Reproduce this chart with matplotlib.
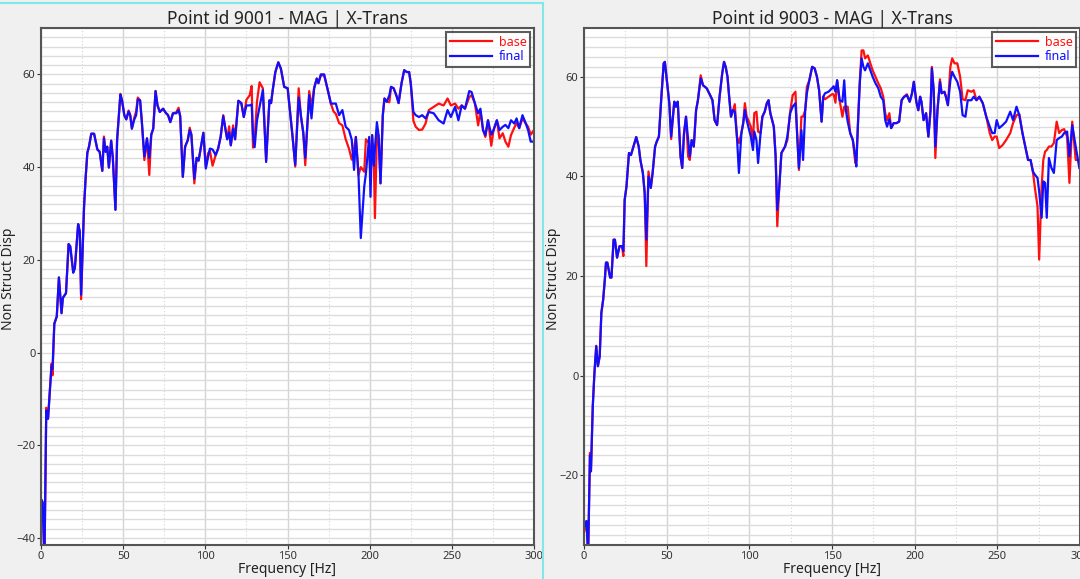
import matplotlib.pyplot as plt
from matplotlib.ticker import MultipleLocator
from matplotlib.patches import Rectangle

plt.rcParams['font.family'] = ['Noto Sans', 'DejaVu Sans']

# point 9001
freq1 = [0, 1, 2.1, 3.2, 4.3, 5.3, 6.4, 7, 8.1, 9.6, 10.9, 12.5, 13.3, 15.2, 16.8, 17.8, 19.6, 20.6,
         22.6, 23.6, 24.4, 26.2, 27.2, 28.2, 29.2, 30.6, 32.3, 34.3, 35.7, 37.3, 38.3, 39.3, 40.3,
         41.3, 42.7, 43.7, 45.3, 46.3, 47.3, 48.3, 49.3, 50.7, 51.9, 53.3, 54.3, 55.3, 56.7, 57.9,
         58.9, 60.3, 61.3, 62.9, 64.5, 65.9, 67.1, 68.3, 69.7, 70.9, 72.3, 74.3, 75.9, 77.3, 78.7,
         80.3, 82.3, 83.7, 84.7, 86.3, 87.7, 89.3, 90.5, 91.5, 93.3, 94.7, 95.9, 98.8, 100.3,
         101.7, 102.8, 104.4, 106.3, 107.8, 109.3, 110.9, 112.3, 113.3, 114.5, 115.5, 116.9, 118.1,
         120.1, 121.9, 123.4, 125, 127, 128.2, 129, 130, 131.4, 133, 135, 137, 139, 140, 141, 142.6,
         144.4, 146, 148, 150.1, 151.7, 153.1, 154.7, 156.8, 158.2, 159.6, 160.8, 163.2, 164.6,
         166.2, 167.8, 168.8, 170.3, 172.3, 174.8, 176.4, 178, 179.4, 181.4, 183.4, 185.4, 187.4,
         189.1, 190.5, 191.6, 193.2, 194.6, 196.7, 197.7, 199.7, 200.5, 201.5, 202.6, 203.2, 204.4,
         205.4, 206.6, 208, 209, 210.4, 212, 213, 214.6, 216.4, 217.6, 219.4, 221, 222.6, 224, 225,
         226.6, 228, 230, 232, 234, 236, 239, 242, 245, 247.4, 249.4, 252, 254, 256, 258, 260.6,
         262, 264, 266, 267.4, 269, 270.4, 272, 274, 275.4, 277.4, 279, 281, 282.6, 284.4, 286,
         288, 289.4, 291, 293, 295, 296.4, 298, 300]
base1 = [-31.6, -32.3, -45, -11.9, -14, -8.7, -2.4, -4.9, 6.2, 7.8, 16.2, 8.5, 11.8, 12.8, 23.4, 22.9,
         17.5, 18.2, 27.7, 26.1, 11.5, 31.5, 37.9, 43.1, 44.4, 47.2, 47.2, 43.8, 43.3, 39.2, 46.6,
         43.3, 44.4, 39.9, 45.7, 42, 30.8, 45.8, 50.8, 55.8, 54.4, 51.2, 50.3, 52.2, 51.2, 48.3,
         50.6, 52, 55, 54.4, 50.1, 41.5, 46.2, 38.3, 47, 48.3, 56.4, 53.3, 51.9, 52.6, 51.7, 51.2,
         49.7, 51.6, 51.8, 52.8, 51, 37.9, 44.4, 45.8, 48.5, 47, 36.5, 42, 41.4, 47.4, 40.1,
         43, 43.5, 40.3, 42.6, 44, 46.5, 51.2, 48, 46, 48.8, 44.7, 49, 46,
         54.3, 53.8, 50.8, 54.5, 55.5, 57.5, 44.2, 46, 54, 58.3, 57, 41.5, 54.4, 53.8, 56.6, 60.5,
         62.6, 61.2, 57.3, 57, 51.5, 46.5, 40.1, 57, 50.8, 47.4, 40.4, 56.4, 53,
         57, 59.1, 58.1, 59.8, 59.8, 56.2, 53.7, 52, 51.5, 49.5, 49, 46, 44,
         41.6, 44, 46.5, 38.3, 40, 39, 46, 45.1, 37, 46.9, 40.3, 29, 46.9,
         46.9, 36.5, 51.2, 54.8, 54.1, 54, 57.3, 57, 55.3, 53.8, 58.1, 60.9, 60.5, 60.5, 58.1,
         50, 48.7, 48, 48.1, 49.4, 52.3, 53, 53.7, 53.3, 54.8, 53.3, 53.7, 52.6, 53.3, 52.6, 55.1,
         55.5, 53.8, 49, 52, 48, 46.5, 50.1, 44.6, 48, 50.1, 46.2, 47.3, 45.5, 44.4, 46.9,
         48.5, 49.5, 48.4, 50.5, 49.4, 48.7, 47, 48]
final1 = [-31.6, -32.3, -45, -12.5, -14.3, -8.7, -3, -3.5, 6.2, 7.8, 16.2, 8.5, 11.8, 12.8, 23.4, 22.9,
          17.2, 18.2, 27.7, 26.1, 12.5, 31.5, 37.9, 43.1, 44.4, 47.2, 47.2, 43.8, 43.3, 39.2, 46.2,
          43.3, 44.4, 39.9, 45.7, 42, 30.8, 45.8, 50.8, 55.6, 54.4, 51.2, 50.3, 52, 51.2, 48.3,
          50.2, 51.2, 54.6, 54.4, 50.1, 42.3, 46.2, 42, 47, 48.3, 56.4, 53.3, 51.9, 52.6, 51.7, 51.2,
          49.7, 51.6, 51.6, 52.3, 51, 37.9, 44.4, 45.8, 48, 47, 37.5, 42, 41.4, 47.4, 39.7,
          42.2, 44, 43.8, 42.6, 44, 46.5, 51, 48, 46, 47.5, 44.7, 48.3, 46,
          54.3, 53.8, 50.8, 53.3, 53.3, 53.5, 47, 44.3, 50, 53, 56.6, 41.1, 54.4, 53.8, 56.6, 60.5,
          62.6, 61.2, 57.3, 57, 51.5, 46.5, 40.5, 55, 51, 47.4, 42, 55.5, 50.5,
          57, 59.1, 58.1, 60, 60, 56.2, 53.7, 53.7, 53.7, 51.2, 52.3, 48.7, 48,
          45.9, 39.4, 46.5, 38.3, 24.7, 35.8, 38.6, 46.5, 33.6, 46.9, 40.3, 44, 49.7,
          46.9, 36.5, 51.2, 54.8, 54.1, 55.5, 57.3, 57, 55.3, 53.8, 58.1, 60.9, 60.5, 60.5, 58.1,
          51.9, 51.2, 50.8, 51.2, 50.5, 51.9, 51.6, 50.1, 49.4, 52.3, 50.8, 53, 50.1, 53.3, 52.6, 56.4,
          56.2, 53.8, 51.6, 52.6, 48, 46.9, 50.1, 47, 48, 50.1, 48, 48.7, 49.1, 48.4, 50.1,
          49.4, 50.5, 48.4, 51.2, 49.4, 48, 45.5, 45.5]

# point 9003
freq3 = [0, 1.5, 2.5, 3.6, 4.2, 5.3, 6.3, 7.4, 8.4, 9.5, 10.5, 11.6, 12.6, 13.3, 14.1, 15.8, 16.6,
         17.9, 18.7, 20, 21.5, 23, 23.8, 24.6, 25.7, 27.2, 28.4, 29.9, 31.6, 33.1, 34.1, 35.6, 36.7,
         37.7, 39, 40.4, 41.5, 43, 44, 45.3, 46.8, 48.2, 48.9, 50.3, 51.6, 52.7, 54.6, 55.6, 56.7,
         58.4, 59.4, 60.5, 61.7, 63, 64, 65.1, 66.4, 67.8, 68.9, 70.6, 72, 74.2, 76.3, 77.7, 79,
         80.5, 82, 83.6, 84.7, 85.7, 86.8, 87.8, 88.9, 90, 91.2, 92.5, 93.7, 95.2, 96.3, 97.3, 98.4,
         99.4, 100.9, 102.2, 103, 104.3, 105.3, 106.8, 107.9, 109.3, 110.6, 111.6, 112.7, 113.8,
         114.8, 115.9, 116.9, 118, 119.4, 121.6, 123, 124.7, 126.2, 127.9, 128.9, 130, 131.5, 132.5,
         133.8, 134.8, 136.3, 138, 139.5, 140.9, 142.2, 143.7, 144.7, 145.8, 147.9, 150, 151, 152.1,
         153.1, 154.6, 156.3, 157.4, 158.4, 159.5, 161, 162.6, 164.1, 164.7, 165.8, 166.8, 167.9,
         169, 170, 171.7, 173.2, 174.6, 176.3, 178, 179.5, 181, 182.2, 183.3, 184.7, 185.8, 187.3,
         189, 190.6, 192.1, 193.6, 195.3, 197, 198.4, 199.5, 201, 202.2, 203.3, 204.1, 205.4, 206.9,
         208.3, 209.6, 210.4, 211.5, 212.5, 213.8, 215.3, 216.3, 218, 218.9, 220.1, 221.6, 222.7,
         224.1, 225.8, 227.5, 229, 230.7, 232.1, 234.3, 235.7, 237.4, 239.1, 241.2, 243.3, 245.4,
         246.9, 248.4, 249.6, 251.1, 253.2, 255.3, 257.8, 259.5, 261.6, 263.3, 265.2, 266.9, 268.6,
         270.1, 271.5, 272.8, 274.3, 275.3, 276.8, 277.8, 278.9, 279.9, 281.2, 282.7, 284.2, 285.9,
         287.4, 289, 290.4, 292.2, 293.6, 295.3, 297.4, 299.6]
base3 = [-31.5, -29.2, -36, -15.5, -19.2, -6.2, 0.5, 6, 1.9, 3.9, 12.6, 15.3, 19.3, 22.7, 22.7, 19.7, 19.7,
         27.3, 27.3, 23.7, 26, 26, 24, 35.3, 38, 44.7, 44.3, 46, 47.9, 46, 43.3, 40.7, 36.7,
         22, 41, 37.7, 40.7, 46, 47, 48, 56, 62.7, 63, 58.7, 54.7, 47.5, 55, 54, 55,
         44, 41.7, 48.7, 52, 44, 43.3, 47.3, 46, 53.3, 55.3, 60.3, 58.3, 57.7, 56.3, 55.3, 51.3,
         50.3, 56, 60.7, 63, 62, 60, 56, 52, 53, 54.5, 48, 46.7, 48.7, 50.7, 54.7, 52,
         51.3, 50, 47.3, 52.7, 53, 49, 48.7, 52, 53, 54.7, 55.3, 52.7, 51.3,
         50, 44, 30, 37.3, 44.7, 46, 47.3, 53, 56.3, 57, 48.7, 41.3, 52, 52,
         53.3, 58, 59.3, 62, 61.7, 60, 57.3, 51, 56, 55.5, 56, 56.5, 56.5, 54.8,
         59.3, 55.3, 52, 54, 54, 54, 48.7, 47.3, 42.7, 43, 51.3, 59, 65.3,
         65.3, 63.7, 64.3, 62.7, 61.3, 60, 58.7, 57.7, 56, 52.7, 51.3, 52.7, 49.7, 50.7,
         50.7, 51, 55.3, 56, 56.5, 55, 56.7, 59, 55, 53.3, 56, 55, 51.3, 52.7,
         48, 53.3, 62, 57.3, 43.7, 53.3, 59.5, 56.7, 57, 56, 54.3, 62, 63.7,
         62.7, 62.7, 60, 55.5, 55.3, 57.3, 57, 57.3, 55.3, 56, 54.7, 52, 48.7,
         47.3, 48, 48, 45.7, 46.3, 47.3, 48.7, 50.7, 52.3, 52.5, 48.7, 46, 43.3,
         43.3, 41, 37.5, 34, 23.3, 38, 43.3, 45, 45.3, 46, 46, 46.7, 51,
         48.7, 49.3, 49.5, 48, 38.7, 51, 43.3, 43.3]
final3 = [-30.5, -29.2, -36, -16, -19.2, -6.2, 0.5, 5.9, 1.9, 3.9, 12.6, 15.3, 19.3, 22.7, 22.7, 19.7, 19.7,
          27.3, 27.3, 23.7, 26, 26, 25, 35.3, 38, 44.7, 44.3, 46, 47.9, 46, 43.3, 40.7, 36.7,
          27.3, 40, 37.7, 40.7, 46, 47, 48, 56, 62.7, 63, 58.7, 54.7, 48, 55, 54, 55,
          44, 41.7, 48.7, 52, 47.3, 44, 47.3, 46, 53.3, 55.3, 59.7, 58.3, 57.7, 56.3, 55.3, 51.3,
          50.3, 56, 60.7, 63, 62, 60, 56, 52, 53.3, 53, 48, 40.7, 48.7, 50.7, 53.3, 51.3,
          50, 48, 45.3, 49, 47.3, 42.7, 48.7, 52, 53, 54.7, 55.3, 52.7, 51.3,
          50, 44, 33.3, 37.3, 44.7, 46, 48, 52.7, 54, 54.7, 48.7, 41.7, 49.3, 43.3,
          53.3, 56.7, 59.3, 62, 61.7, 60, 57.3, 51, 56, 56.7, 57, 57.7, 58.1, 57,
          59.3, 55.3, 55, 59.3, 53.3, 51, 48.7, 47.3, 44, 42, 51.3, 58.7, 63.7,
          62, 61.3, 62.7, 61.3, 60, 58.7, 57.7, 56, 55.3, 51.3, 50, 51.5, 49.7, 50.7,
          50.7, 51, 55.3, 56, 56.3, 55, 56.7, 59, 55, 53.3, 56, 55, 51.3, 52.7,
          48, 53.3, 61.7, 57.3, 46, 53.3, 59, 56.7, 57, 56, 54.3, 59.3, 61,
          60, 59, 57, 52.3, 52, 55.3, 55.3, 56, 55.3, 56, 54.7, 52, 50,
          48.7, 48.7, 51.3, 49.7, 50.3, 51, 53, 51.3, 54, 52.3, 48.7, 46, 43.3,
          43.3, 41, 40.3, 39.7, 37, 31.7, 39, 38.7, 31.7, 43.7, 41.7, 40.7, 47.3,
          47.7, 48, 48.7, 49, 44, 50.3, 46, 41.7]

titles = ['Point id 9001 - MAG | X-Trans', 'Point id 9003 - MAG | X-Trans']

fig = plt.figure(figsize=(10.8, 5.79), dpi=100, facecolor='#f0f0f0')
W, H = 1080, 579
ax1 = fig.add_axes([41 / W, 34 / H, (534 - 41) / W, (545 - 28) / H])
ax2 = fig.add_axes([584 / W, 34 / H, (1080 - 584) / W, (545 - 28) / H])

panels = [(ax1, freq1, base1, final1, (-41.5, 70), -40, -0.051),
          (ax2, freq3, base3, final3, (-34, 69.8), -20, -0.046)]

for i, (ax, f, b, fn, ylim, ystart, labx) in enumerate(panels):
    ax.plot(f, b, color='#ff1010', lw=1.6, label='base')
    ax.plot(f, fn, color='#1010ff', lw=1.6, label='final')
    ax.set_xlim(0, 300)
    ax.set_ylim(*ylim)
    ax.set_xticks([0, 50, 100, 150, 200, 250, 300])
    ax.set_yticks(list(range(ystart, 61, 20)))
    ax.xaxis.set_minor_locator(MultipleLocator(25))
    ax.yaxis.set_minor_locator(MultipleLocator(2))
    ax.grid(which='major', axis='x', color='#d4d4d4', lw=1.0)
    ax.grid(which='minor', axis='x', color='#d4d4d4', lw=0.8, ls=(0, (1, 2)))
    ax.grid(which='both', axis='y', color='#dcdcdc', lw=1.0)
    ax.set_axisbelow(True)
    ax.tick_params(which='major', labelsize=8, colors='#333333', length=3, pad=1)
    ax.tick_params(which='minor', length=0)
    for s in ax.spines.values():
        s.set_color('#555555')
        s.set_linewidth(1.5)
    ax.set_title(titles[i], fontsize=12.5, color='#222222', pad=2)
    ax.set_xlabel('Frequency [Hz]', fontsize=10, color='#222222', labelpad=0)
    ax.set_ylabel('Non Struct Disp', fontsize=10, color='#222222')
    ax.yaxis.set_label_coords(labx, 0.514)
    leg = ax.legend(loc='upper right', fontsize=9, frameon=True, fancybox=False,
                    edgecolor='#333333', borderaxespad=0.3, handlelength=3.4,
                    labelcolor='linecolor', borderpad=0.3, labelspacing=0.15,
                    handletextpad=0.5)
    leg.get_frame().set_linewidth(1.5)

# selection frame round the left panel
fig.patches.append(Rectangle((-0.01, -0.01), 543 / W + 0.01, 1 - 3 / H + 0.01,
                             transform=fig.transFigure, fill=False,
                             edgecolor='#80e8e8', lw=1.5))

fig.savefig('out.png', dpi=100, facecolor=fig.get_facecolor())
